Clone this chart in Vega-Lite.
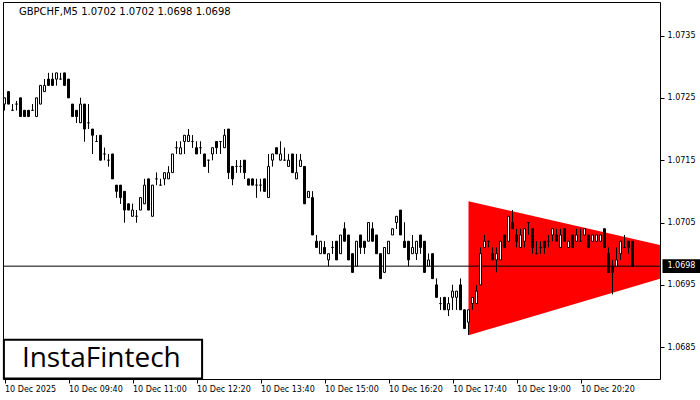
{
"$schema":"https://vega.github.io/schema/vega-lite/v6.json",
"width":657,"height":377,
"padding":{"left":2,"top":2,"right":0,"bottom":0},
"background":"white",
"config":{"view":{"stroke":"black","strokeWidth":1},"axis":{"labelFont":"DejaVu Sans","labelColor":"black","tickColor":"black","grid":false,"domain":false}},
"datasets":{
"one":[{"k":1}],
"tri":[{"t":"2025-12-10 18:00","top":1.07084,"bot":1.06869},{"t":"2025-12-10 21:59:20","top":1.07014,"bot":1.0696}],
"candles":[
{"t":"2025-12-10 08:20","o":1.0724,"h":1.0725,"l":1.0723,"c":1.0725},
{"t":"2025-12-10 08:25","o":1.0726,"h":1.0726,"l":1.0724,"c":1.0724},
{"t":"2025-12-10 08:30","o":1.0723,"h":1.0724,"l":1.0723,"c":1.0723},
{"t":"2025-12-10 08:35","o":1.0724,"h":1.07245,"l":1.0723,"c":1.0724},
{"t":"2025-12-10 08:40","o":1.0725,"h":1.0725,"l":1.0722,"c":1.0722},
{"t":"2025-12-10 08:45","o":1.0723,"h":1.0723,"l":1.0722,"c":1.0722},
{"t":"2025-12-10 08:50","o":1.0723,"h":1.0723,"l":1.0722,"c":1.0722},
{"t":"2025-12-10 08:55","o":1.0723,"h":1.0724,"l":1.0723,"c":1.0723},
{"t":"2025-12-10 09:00","o":1.0722,"h":1.0725,"l":1.0722,"c":1.0725},
{"t":"2025-12-10 09:05","o":1.0724,"h":1.0727,"l":1.0724,"c":1.0727},
{"t":"2025-12-10 09:10","o":1.0726,"h":1.0728,"l":1.0726,"c":1.0727},
{"t":"2025-12-10 09:15","o":1.0728,"h":1.0729,"l":1.0727,"c":1.0727},
{"t":"2025-12-10 09:20","o":1.0728,"h":1.0729,"l":1.0727,"c":1.0727},
{"t":"2025-12-10 09:25","o":1.0728,"h":1.0729,"l":1.0727,"c":1.0729},
{"t":"2025-12-10 09:30","o":1.0728,"h":1.0729,"l":1.0728,"c":1.0728},
{"t":"2025-12-10 09:35","o":1.0729,"h":1.0729,"l":1.0727,"c":1.0727},
{"t":"2025-12-10 09:40","o":1.0728,"h":1.0728,"l":1.0725,"c":1.0725},
{"t":"2025-12-10 09:45","o":1.0724,"h":1.0724,"l":1.0722,"c":1.0722},
{"t":"2025-12-10 09:50","o":1.0723,"h":1.0723,"l":1.0721,"c":1.0722},
{"t":"2025-12-10 09:55","o":1.0721,"h":1.0725,"l":1.0721,"c":1.0724},
{"t":"2025-12-10 10:00","o":1.0724,"h":1.0724,"l":1.0718,"c":1.0720},
{"t":"2025-12-10 10:05","o":1.0721,"h":1.0724,"l":1.0720,"c":1.0721},
{"t":"2025-12-10 10:10","o":1.0720,"h":1.0720,"l":1.0716,"c":1.0719},
{"t":"2025-12-10 10:15","o":1.0718,"h":1.0719,"l":1.0718,"c":1.0718},
{"t":"2025-12-10 10:20","o":1.0719,"h":1.0719,"l":1.0715,"c":1.0715},
{"t":"2025-12-10 10:25","o":1.0716,"h":1.0717,"l":1.0715,"c":1.0716},
{"t":"2025-12-10 10:30","o":1.0715,"h":1.0716,"l":1.0714,"c":1.0715},
{"t":"2025-12-10 10:35","o":1.0716,"h":1.0716,"l":1.0712,"c":1.0712},
{"t":"2025-12-10 10:40","o":1.0711,"h":1.0711,"l":1.0709,"c":1.0710},
{"t":"2025-12-10 10:45","o":1.0711,"h":1.0711,"l":1.0708,"c":1.0709},
{"t":"2025-12-10 10:50","o":1.0710,"h":1.0710,"l":1.0705,"c":1.0707},
{"t":"2025-12-10 10:55","o":1.0708,"h":1.0708,"l":1.0707,"c":1.0707},
{"t":"2025-12-10 11:00","o":1.0706,"h":1.0708,"l":1.0706,"c":1.0707},
{"t":"2025-12-10 11:05","o":1.0706,"h":1.0707,"l":1.0705,"c":1.0706},
{"t":"2025-12-10 11:10","o":1.0707,"h":1.0709,"l":1.0707,"c":1.0709},
{"t":"2025-12-10 11:15","o":1.0708,"h":1.0712,"l":1.0708,"c":1.0711},
{"t":"2025-12-10 11:20","o":1.0712,"h":1.0712,"l":1.0707,"c":1.0707},
{"t":"2025-12-10 11:25","o":1.0706,"h":1.0711,"l":1.0706,"c":1.0711},
{"t":"2025-12-10 11:30","o":1.0712,"h":1.0713,"l":1.0711,"c":1.0712},
{"t":"2025-12-10 11:35","o":1.0711,"h":1.0712,"l":1.0711,"c":1.0711},
{"t":"2025-12-10 11:40","o":1.0712,"h":1.0713,"l":1.0711,"c":1.0713},
{"t":"2025-12-10 11:45","o":1.0712,"h":1.0714,"l":1.0712,"c":1.0713},
{"t":"2025-12-10 11:50","o":1.0713,"h":1.0716,"l":1.0713,"c":1.0716},
{"t":"2025-12-10 11:55","o":1.0717,"h":1.0718,"l":1.0716,"c":1.0717},
{"t":"2025-12-10 12:00","o":1.0716,"h":1.0718,"l":1.0716,"c":1.0717},
{"t":"2025-12-10 12:05","o":1.0718,"h":1.0719,"l":1.0716,"c":1.0719},
{"t":"2025-12-10 12:10","o":1.0718,"h":1.0720,"l":1.0718,"c":1.0719},
{"t":"2025-12-10 12:15","o":1.0718,"h":1.0719,"l":1.0717,"c":1.0718},
{"t":"2025-12-10 12:20","o":1.0717,"h":1.0718,"l":1.0716,"c":1.0716},
{"t":"2025-12-10 12:25","o":1.0717,"h":1.0718,"l":1.0716,"c":1.0717},
{"t":"2025-12-10 12:30","o":1.0716,"h":1.0716,"l":1.0714,"c":1.0714},
{"t":"2025-12-10 12:35","o":1.0715,"h":1.0715,"l":1.0713,"c":1.0715},
{"t":"2025-12-10 12:40","o":1.0716,"h":1.0717,"l":1.0715,"c":1.0717},
{"t":"2025-12-10 12:45","o":1.0718,"h":1.0718,"l":1.0716,"c":1.0717},
{"t":"2025-12-10 12:50","o":1.0718,"h":1.0718,"l":1.0716,"c":1.0718},
{"t":"2025-12-10 12:55","o":1.0717,"h":1.0720,"l":1.0717,"c":1.0719},
{"t":"2025-12-10 13:00","o":1.0720,"h":1.0720,"l":1.0712,"c":1.0713},
{"t":"2025-12-10 13:05","o":1.0714,"h":1.0714,"l":1.0711,"c":1.0712},
{"t":"2025-12-10 13:10","o":1.0714,"h":1.0715,"l":1.0713,"c":1.0714},
{"t":"2025-12-10 13:15","o":1.0714,"h":1.0715,"l":1.0713,"c":1.0714},
{"t":"2025-12-10 13:20","o":1.0715,"h":1.0715,"l":1.0712,"c":1.0713},
{"t":"2025-12-10 13:25","o":1.0712,"h":1.0712,"l":1.0711,"c":1.0711},
{"t":"2025-12-10 13:30","o":1.0712,"h":1.0712,"l":1.0711,"c":1.0711},
{"t":"2025-12-10 13:35","o":1.0711,"h":1.0712,"l":1.0709,"c":1.0711},
{"t":"2025-12-10 13:40","o":1.0711,"h":1.0712,"l":1.0710,"c":1.0711},
{"t":"2025-12-10 13:45","o":1.0712,"h":1.0712,"l":1.0710,"c":1.0710},
{"t":"2025-12-10 13:50","o":1.0709,"h":1.0716,"l":1.0709,"c":1.0714},
{"t":"2025-12-10 13:55","o":1.0715,"h":1.0716,"l":1.0714,"c":1.0716},
{"t":"2025-12-10 14:00","o":1.0717,"h":1.0717,"l":1.0716,"c":1.0716},
{"t":"2025-12-10 14:05","o":1.0715,"h":1.0718,"l":1.0715,"c":1.0716},
{"t":"2025-12-10 14:10","o":1.0715,"h":1.0717,"l":1.0715,"c":1.0715},
{"t":"2025-12-10 14:15","o":1.0714,"h":1.0716,"l":1.0714,"c":1.0715},
{"t":"2025-12-10 14:20","o":1.0716,"h":1.0716,"l":1.0713,"c":1.0713},
{"t":"2025-12-10 14:25","o":1.0712,"h":1.0716,"l":1.0712,"c":1.0713},
{"t":"2025-12-10 14:30","o":1.0714,"h":1.0716,"l":1.0714,"c":1.0715},
{"t":"2025-12-10 14:35","o":1.0714,"h":1.0714,"l":1.0708,"c":1.0708},
{"t":"2025-12-10 14:40","o":1.0709,"h":1.0710,"l":1.0709,"c":1.0710},
{"t":"2025-12-10 14:45","o":1.0709,"h":1.0710,"l":1.0703,"c":1.0703},
{"t":"2025-12-10 14:50","o":1.0702,"h":1.0703,"l":1.0701,"c":1.0701},
{"t":"2025-12-10 14:55","o":1.0700,"h":1.0702,"l":1.0700,"c":1.0702},
{"t":"2025-12-10 15:00","o":1.0701,"h":1.0702,"l":1.0700,"c":1.0700},
{"t":"2025-12-10 15:05","o":1.0699,"h":1.0700,"l":1.0698,"c":1.0700},
{"t":"2025-12-10 15:10","o":1.0701,"h":1.0702,"l":1.0700,"c":1.0701},
{"t":"2025-12-10 15:15","o":1.0702,"h":1.0702,"l":1.0699,"c":1.0699},
{"t":"2025-12-10 15:20","o":1.0700,"h":1.0703,"l":1.0700,"c":1.0703},
{"t":"2025-12-10 15:25","o":1.0704,"h":1.0705,"l":1.0702,"c":1.0702},
{"t":"2025-12-10 15:30","o":1.0703,"h":1.0703,"l":1.0699,"c":1.0699},
{"t":"2025-12-10 15:35","o":1.0700,"h":1.0700,"l":1.0697,"c":1.0697},
{"t":"2025-12-10 15:40","o":1.0698,"h":1.0702,"l":1.0698,"c":1.0702},
{"t":"2025-12-10 15:45","o":1.0703,"h":1.0703,"l":1.0700,"c":1.0701},
{"t":"2025-12-10 15:50","o":1.0702,"h":1.0702,"l":1.0700,"c":1.0701},
{"t":"2025-12-10 15:55","o":1.0702,"h":1.0705,"l":1.0702,"c":1.0705},
{"t":"2025-12-10 16:00","o":1.0704,"h":1.0705,"l":1.0702,"c":1.0702},
{"t":"2025-12-10 16:05","o":1.0703,"h":1.0703,"l":1.0700,"c":1.0700},
{"t":"2025-12-10 16:10","o":1.0700,"h":1.0700,"l":1.0696,"c":1.0696},
{"t":"2025-12-10 16:15","o":1.0697,"h":1.0701,"l":1.0697,"c":1.0701},
{"t":"2025-12-10 16:20","o":1.0700,"h":1.0702,"l":1.0700,"c":1.0702},
{"t":"2025-12-10 16:25","o":1.0703,"h":1.0704,"l":1.0703,"c":1.0704},
{"t":"2025-12-10 16:30","o":1.0705,"h":1.0706,"l":1.0704,"c":1.0706},
{"t":"2025-12-10 16:35","o":1.0707,"h":1.0707,"l":1.0703,"c":1.0703},
{"t":"2025-12-10 16:40","o":1.0702,"h":1.0705,"l":1.0701,"c":1.0701},
{"t":"2025-12-10 16:45","o":1.0702,"h":1.0702,"l":1.0698,"c":1.0699},
{"t":"2025-12-10 16:50","o":1.0700,"h":1.0703,"l":1.0700,"c":1.0701},
{"t":"2025-12-10 16:55","o":1.0700,"h":1.0702,"l":1.0699,"c":1.0702},
{"t":"2025-12-10 17:00","o":1.0703,"h":1.0703,"l":1.0700,"c":1.0701},
{"t":"2025-12-10 17:05","o":1.0702,"h":1.0702,"l":1.0697,"c":1.0697},
{"t":"2025-12-10 17:10","o":1.0698,"h":1.0700,"l":1.0698,"c":1.0699},
{"t":"2025-12-10 17:15","o":1.0700,"h":1.0700,"l":1.0696,"c":1.0696},
{"t":"2025-12-10 17:20","o":1.0695,"h":1.0696,"l":1.0693,"c":1.0693},
{"t":"2025-12-10 17:25","o":1.0692,"h":1.0693,"l":1.0691,"c":1.0692},
{"t":"2025-12-10 17:30","o":1.0693,"h":1.0693,"l":1.0691,"c":1.0691},
{"t":"2025-12-10 17:35","o":1.0691,"h":1.0693,"l":1.0690,"c":1.0692},
{"t":"2025-12-10 17:40","o":1.0693,"h":1.0695,"l":1.0691,"c":1.0694},
{"t":"2025-12-10 17:45","o":1.0693,"h":1.0694,"l":1.0691,"c":1.0694},
{"t":"2025-12-10 17:50","o":1.0695,"h":1.0696,"l":1.0691,"c":1.0691},
{"t":"2025-12-10 17:55","o":1.0691,"h":1.0691,"l":1.0688,"c":1.0688},
{"t":"2025-12-10 18:00","o":1.0689,"h":1.0691,"l":1.0687,"c":1.0691},
{"t":"2025-12-10 18:05","o":1.0692,"h":1.0693,"l":1.0691,"c":1.0693},
{"t":"2025-12-10 18:10","o":1.0692,"h":1.0695,"l":1.0692,"c":1.0694},
{"t":"2025-12-10 18:15","o":1.0695,"h":1.0701,"l":1.0695,"c":1.0700},
{"t":"2025-12-10 18:20","o":1.0701,"h":1.0703,"l":1.0701,"c":1.0702},
{"t":"2025-12-10 18:25","o":1.0702,"h":1.0702,"l":1.0701,"c":1.0702},
{"t":"2025-12-10 18:30","o":1.0700,"h":1.0701,"l":1.0699,"c":1.0699},
{"t":"2025-12-10 18:35","o":1.0699,"h":1.0701,"l":1.0697,"c":1.0700},
{"t":"2025-12-10 18:40","o":1.0699,"h":1.0702,"l":1.0699,"c":1.0702},
{"t":"2025-12-10 18:45","o":1.0703,"h":1.0703,"l":1.0701,"c":1.0701},
{"t":"2025-12-10 18:50","o":1.0702,"h":1.0706,"l":1.0702,"c":1.0706},
{"t":"2025-12-10 18:55","o":1.0705,"h":1.0707,"l":1.0704,"c":1.0704},
{"t":"2025-12-10 19:00","o":1.0703,"h":1.0704,"l":1.0701,"c":1.0702},
{"t":"2025-12-10 19:05","o":1.0701,"h":1.0704,"l":1.0701,"c":1.0703},
{"t":"2025-12-10 19:10","o":1.0702,"h":1.0704,"l":1.0701,"c":1.0704},
{"t":"2025-12-10 19:15","o":1.0705,"h":1.0705,"l":1.0703,"c":1.0705},
{"t":"2025-12-10 19:20","o":1.0704,"h":1.0704,"l":1.0700,"c":1.0701},
{"t":"2025-12-10 19:25","o":1.0700,"h":1.0702,"l":1.0700,"c":1.0700},
{"t":"2025-12-10 19:30","o":1.0701,"h":1.0702,"l":1.0700,"c":1.0701},
{"t":"2025-12-10 19:35","o":1.0702,"h":1.0702,"l":1.0700,"c":1.0701},
{"t":"2025-12-10 19:40","o":1.0702,"h":1.0703,"l":1.0701,"c":1.0702},
{"t":"2025-12-10 19:45","o":1.0703,"h":1.0704,"l":1.0702,"c":1.0704},
{"t":"2025-12-10 19:50","o":1.0703,"h":1.0704,"l":1.0702,"c":1.0702},
{"t":"2025-12-10 19:55","o":1.0701,"h":1.0704,"l":1.0701,"c":1.0703},
{"t":"2025-12-10 20:00","o":1.0704,"h":1.0704,"l":1.0702,"c":1.0702},
{"t":"2025-12-10 20:05","o":1.0701,"h":1.0702,"l":1.0701,"c":1.0702},
{"t":"2025-12-10 20:10","o":1.0703,"h":1.0703,"l":1.0701,"c":1.0701},
{"t":"2025-12-10 20:15","o":1.0702,"h":1.0704,"l":1.0702,"c":1.0703},
{"t":"2025-12-10 20:20","o":1.0702,"h":1.0704,"l":1.0702,"c":1.0702},
{"t":"2025-12-10 20:25","o":1.0703,"h":1.0704,"l":1.0703,"c":1.0704},
{"t":"2025-12-10 20:30","o":1.0703,"h":1.0703,"l":1.0701,"c":1.0701},
{"t":"2025-12-10 20:35","o":1.0702,"h":1.0703,"l":1.0702,"c":1.0703},
{"t":"2025-12-10 20:40","o":1.0702,"h":1.0703,"l":1.0702,"c":1.0703},
{"t":"2025-12-10 20:45","o":1.0702,"h":1.0703,"l":1.0702,"c":1.0703},
{"t":"2025-12-10 20:50","o":1.0704,"h":1.0704,"l":1.0701,"c":1.0701},
{"t":"2025-12-10 20:55","o":1.0700,"h":1.0701,"l":1.0697,"c":1.0697},
{"t":"2025-12-10 21:00","o":1.0698,"h":1.0699,"l":1.06935,"c":1.0697},
{"t":"2025-12-10 21:05","o":1.0698,"h":1.0701,"l":1.0698,"c":1.0699},
{"t":"2025-12-10 21:10","o":1.0700,"h":1.0702,"l":1.0699,"c":1.0702},
{"t":"2025-12-10 21:15","o":1.0701,"h":1.0703,"l":1.0701,"c":1.0701},
{"t":"2025-12-10 21:20","o":1.0702,"h":1.0702,"l":1.0700,"c":1.0701},
{"t":"2025-12-10 21:25","o":1.0702,"h":1.0702,"l":1.0698,"c":1.0698}
]},
"layer":[
{"data":{"name":"candles"},"mark":{"type":"rule","color":"black","strokeWidth":1},
 "encoding":{
  "x":{"field":"t","type":"temporal","title":null,"scale":{"padding":0,"domain":[{"year":2025,"month":12,"date":10,"hours":8,"minutes":18,"seconds":7,"milliseconds":500},{"year":2025,"month":12,"date":10,"hours":21,"minutes":59,"seconds":22,"milliseconds":500}]},
   "axis":{"orient":"bottom","title":null,"values":[
    {"year":2025,"month":12,"date":10,"hours":8,"minutes":20},
    {"year":2025,"month":12,"date":10,"hours":9,"minutes":40},
    {"year":2025,"month":12,"date":10,"hours":11,"minutes":0},
    {"year":2025,"month":12,"date":10,"hours":12,"minutes":20},
    {"year":2025,"month":12,"date":10,"hours":13,"minutes":40},
    {"year":2025,"month":12,"date":10,"hours":15,"minutes":0},
    {"year":2025,"month":12,"date":10,"hours":16,"minutes":20},
    {"year":2025,"month":12,"date":10,"hours":17,"minutes":40},
    {"year":2025,"month":12,"date":10,"hours":19,"minutes":0},
    {"year":2025,"month":12,"date":10,"hours":20,"minutes":20}],
   "labelExpr":"datum.index === 0 ? '10 Dec 2025' : timeFormat(datum.value, '%d %b %H:%M')",
   "labelAlign":"left","labelFontSize":8,"labelPadding":2,"tickSize":4,"labelOverlap":false,"labelFlush":false}},
  "y":{"field":"l","type":"quantitative","title":null,"scale":{"domain":[1.06799,1.0740375],"zero":false,"nice":false},
   "axis":{"orient":"right","title":null,"values":[1.0685,1.0695,1.0705,1.0715,1.0725,1.0735],"format":".4f","labelFontSize":8,"tickSize":4,"labelPadding":3}},
  "y2":{"field":"h"}}},
{"data":{"name":"tri"},"mark":{"type":"area","color":"#FF0000","opacity":1},
 "encoding":{
  "x":{"field":"t","type":"temporal","title":null},
  "y":{"field":"top","type":"quantitative","title":null},
  "y2":{"field":"bot"}}},
{"data":{"name":"one"},"mark":{"type":"rule","color":"black","strokeWidth":1},
 "encoding":{"y":{"datum":1.0698,"type":"quantitative","title":null}}},
{"data":{"name":"candles"},"mark":{"type":"rule","color":"black","strokeWidth":1},
 "encoding":{
  "x":{"field":"t","type":"temporal","title":null},
  "y":{"field":"l","type":"quantitative","title":null},
  "y2":{"field":"h"}}},
{"data":{"name":"candles"},"mark":{"type":"bar","size":2,"stroke":"black","strokeWidth":1},
 "encoding":{
  "x":{"field":"t","type":"temporal","title":null},
  "y":{"field":"o","type":"quantitative","title":null},
  "y2":{"field":"c"},
  "fill":{"condition":{"test":"datum.c >= datum.o","value":"white"},"value":"black"}}},
{"data":{"name":"one"},"mark":{"type":"rect","fill":"white","stroke":"black","strokeWidth":2},
 "encoding":{
  "x":{"datum":{"year":2025,"month":12,"date":10,"hours":8,"minutes":19,"seconds":15},"type":"temporal","title":null},
  "x2":{"datum":{"year":2025,"month":12,"date":10,"hours":12,"minutes":27}},
  "y":{"datum":1.06862,"type":"quantitative","title":null},
  "y2":{"datum":1.068}}},
{"data":{"name":"one"},"mark":{"type":"text","text":"InstaFintech","font":"Open Sans","fontSize":28,"fontWeight":500,"color":"black","align":"center","baseline":"middle"},
 "encoding":{
  "x":{"datum":{"year":2025,"month":12,"date":10,"hours":10,"minutes":21},"type":"temporal","title":null},
  "y":{"datum":1.06831,"type":"quantitative","title":null}}},
{"data":{"name":"one"},"mark":{"type":"text","text":"GBPCHF,M5  1.0702 1.0702 1.0698 1.0698","font":"DejaVu Sans","fontSize":10,"color":"black","align":"left","baseline":"middle"},
 "encoding":{
  "x":{"datum":{"year":2025,"month":12,"date":10,"hours":8,"minutes":38},"type":"temporal","title":null},
  "y":{"datum":1.07387,"type":"quantitative","title":null}}},
{"data":{"name":"one"},"mark":{"type":"rect","fill":"black"},
 "encoding":{
  "x":{"datum":{"year":2025,"month":12,"date":10,"hours":22,"minutes":2,"seconds":30},"type":"temporal","title":null},
  "x2":{"datum":{"year":2025,"month":12,"date":10,"hours":22,"minutes":51}},
  "y":{"datum":1.06991,"type":"quantitative","title":null},
  "y2":{"datum":1.06969}}},
{"data":{"name":"one"},"mark":{"type":"text","text":"1.0698","font":"DejaVu Sans","fontSize":8,"color":"white","align":"left","baseline":"middle"},
 "encoding":{
  "x":{"datum":{"year":2025,"month":12,"date":10,"hours":22,"minutes":8,"seconds":40},"type":"temporal","title":null},
  "y":{"datum":1.0698,"type":"quantitative","title":null}}}
]}
